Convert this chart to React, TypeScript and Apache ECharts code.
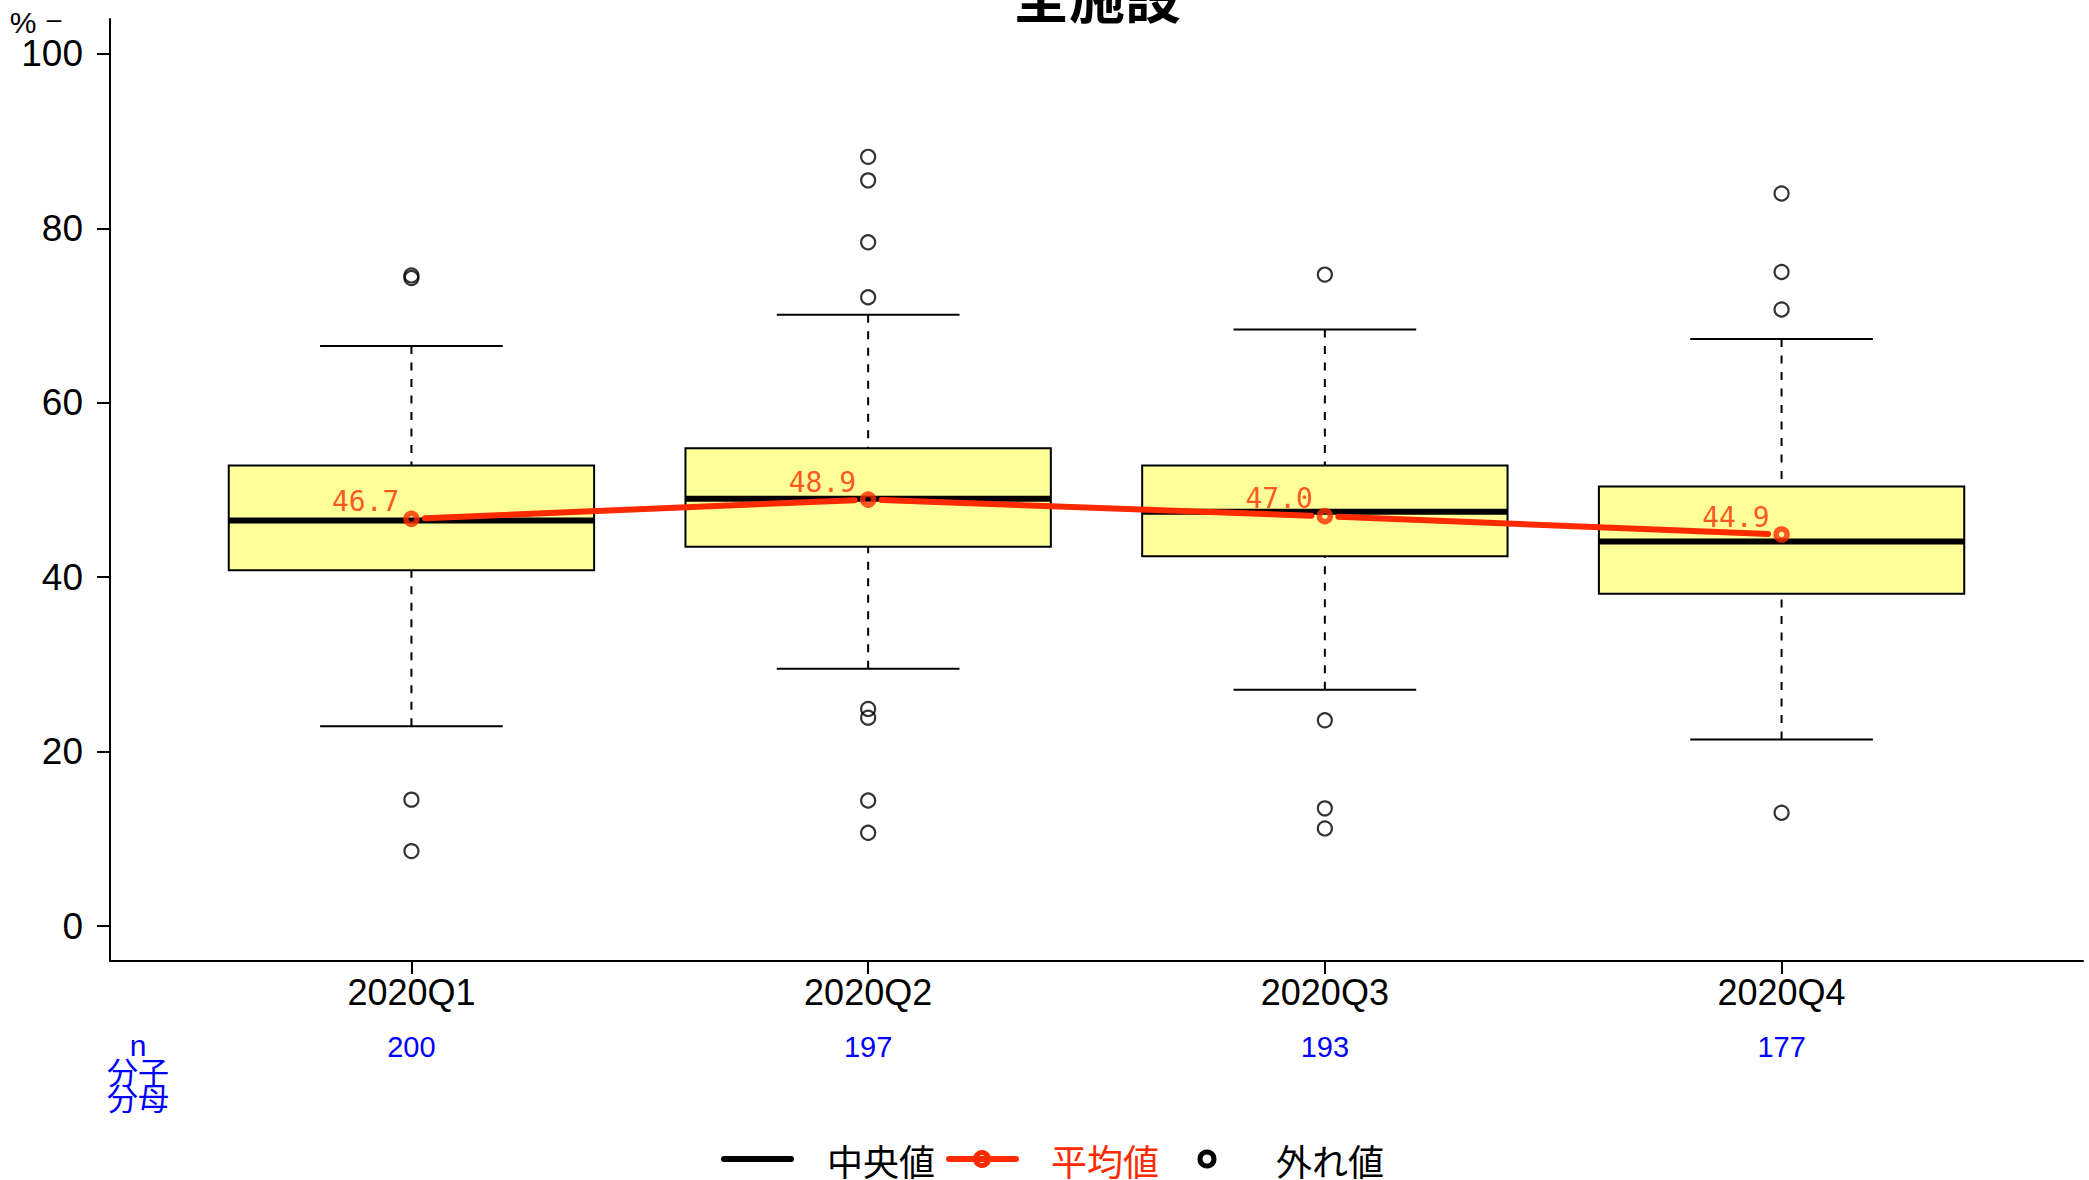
import React, { useEffect, useRef } from "react";
import * as echarts from "echarts";

const categories = ["2020Q1", "2020Q2", "2020Q3", "2020Q4"];
const nValues = [200, 197, 193, 177];
const whiskerLow = [22.9, 29.5, 27.1, 21.4];
const q1Values = [40.8, 43.5, 42.4, 38.1];
const medians = [46.5, 49.0, 47.5, 44.1];
const q3Values = [52.8, 54.8, 52.8, 50.4];
const whiskerHigh = [66.5, 70.1, 68.4, 67.3];
const means = [46.7, 48.9, 47.0, 44.9];
const outlierQ1 = [74.6, 74.3, 14.5, 8.6];
const outlierQ2 = [88.2, 85.5, 78.4, 72.1, 24.9, 23.9, 14.4, 10.7];
const outlierQ3 = [74.7, 23.6, 13.5, 11.2];
const outlierQ4 = [84.0, 75.0, 70.7, 13.0];
const yTicks = [0, 20, 40, 60, 80, 100];
const legendLabels = ["中央値", "平均値", "外れ値"];
const title = "全施設";

const RED = "#FF2A00";
const BLUE = "#0000FF";
const SANS = "'Liberation Sans', Arial, sans-serif";
const CJK = "'Noto Sans CJK JP', sans-serif";

export default function App() {
  const ref = useRef<HTMLDivElement>(null);
  useEffect(() => {
    if (!ref.current) return;
    const chart = echarts.init(ref.current, null, { renderer: "svg" });
    const xPos = categories.map((_, i) => i + 1);
    const boxData = xPos.map((x, i) => [x, whiskerLow[i], q1Values[i], medians[i], q3Values[i], whiskerHigh[i]]);
    const outlierSets = [outlierQ1, outlierQ2, outlierQ3, outlierQ4];
    const outlierData: number[][] = [];
    outlierSets.forEach((arr, i) => arr.forEach((v) => outlierData.push([i + 1, v])));
    const meanData = xPos.map((x, i) => [x, means[i]]);
    const segData = means.slice(0, -1).map((m, i) => [i + 1, m, i + 2, means[i + 1]]);

    const option: any = {
      animation: false,
      grid: { left: 110, right: 6, top: 19, bottom: 219 },
      xAxis: [
        {
          type: "value",
          min: 0.34,
          max: 4.66,
          axisLine: { show: true, onZero: false, lineStyle: { color: "#000", width: 2 } },
          axisTick: { show: true, customValues: xPos, length: 13, lineStyle: { color: "#000", width: 2 } },
          axisLabel: {
            customValues: xPos,
            formatter: (v: number) => categories[Math.round(v) - 1] ?? "",
            fontSize: 36,
            fontFamily: SANS,
            color: "#000",
            margin: 13,
          },
          splitLine: { show: false },
        },
        {
          type: "value",
          min: 0.34,
          max: 4.66,
          position: "bottom",
          axisLine: { show: false },
          axisTick: { show: false },
          axisLabel: {
            customValues: xPos,
            formatter: (v: number) => String(nValues[Math.round(v) - 1] ?? ""),
            fontSize: 29,
            fontFamily: SANS,
            color: BLUE,
            margin: 71,
          },
          splitLine: { show: false },
        },
      ],
      yAxis: {
        type: "value",
        min: -4,
        max: 104,
        axisLine: { show: true, onZero: false, lineStyle: { color: "#000", width: 2 } },
        axisTick: { show: true, customValues: yTicks, length: 13, lineStyle: { color: "#000", width: 2 } },
        axisLabel: {
          customValues: yTicks,
          fontSize: 37,
          fontFamily: SANS,
          color: "#000",
          margin: 27,
        },
        splitLine: { show: false },
      },
      series: [
        {
          type: "custom",
          z: 2,
          xAxisIndex: 0,
          encode: { x: 0, y: [1, 2, 3, 4, 5] },
          data: boxData,
          renderItem: (params: any, api: any) => {
            const x = api.value(0);
            const lo = api.coord([x, api.value(1)]);
            const b = api.coord([x, api.value(2)]);
            const m = api.coord([x, api.value(3)]);
            const t = api.coord([x, api.value(4)]);
            const hi = api.coord([x, api.value(5)]);
            const halfW = api.size([0.4, 0])[0];
            const capW = api.size([0.2, 0])[0];
            const cx = m[0];
            const dash = { stroke: "#000", lineWidth: 2, lineDash: [8, 8.5] };
            const solid = { stroke: "#000", lineWidth: 2 };
            return {
              type: "group",
              children: [
                { type: "line", shape: { x1: cx, y1: hi[1], x2: cx, y2: t[1] }, style: dash },
                { type: "line", shape: { x1: cx, y1: lo[1], x2: cx, y2: b[1] }, style: dash },
                { type: "line", shape: { x1: cx - capW, y1: hi[1], x2: cx + capW, y2: hi[1] }, style: solid },
                { type: "line", shape: { x1: cx - capW, y1: lo[1], x2: cx + capW, y2: lo[1] }, style: solid },
                {
                  type: "rect",
                  shape: { x: cx - halfW, y: t[1], width: 2 * halfW, height: b[1] - t[1] },
                  style: { fill: "#FFFF99", stroke: "#000", lineWidth: 2 },
                },
                { type: "line", shape: { x1: cx - halfW, y1: m[1], x2: cx + halfW, y2: m[1] }, style: { stroke: "#000", lineWidth: 6 } },
              ],
            };
          },
        },
        {
          type: "scatter",
          z: 3,
          data: outlierData,
          symbol: "circle",
          symbolSize: 14,
          itemStyle: { color: "rgba(0,0,0,0)", borderColor: "#000", borderWidth: 2.2 },
        },
        {
          type: "custom",
          z: 4,
          encode: { x: [0, 2], y: [1, 3] },
          data: segData,
          renderItem: (params: any, api: any) => {
            const p0 = api.coord([api.value(0), api.value(1)]);
            const p1 = api.coord([api.value(2), api.value(3)]);
            const dx = p1[0] - p0[0];
            const dy = p1[1] - p0[1];
            const len = Math.hypot(dx, dy);
            const g = 13.5;
            return {
              type: "line",
              shape: {
                x1: p0[0] + (dx / len) * g,
                y1: p0[1] + (dy / len) * g,
                x2: p1[0] - (dx / len) * g,
                y2: p1[1] - (dy / len) * g,
              },
              style: { stroke: RED, lineWidth: 6, lineCap: "round" },
            };
          },
        },
        {
          type: "scatter",
          z: 5,
          data: meanData,
          symbol: "circle",
          symbolSize: 11,
          itemStyle: { color: "rgba(0,0,0,0)", borderColor: RED, borderWidth: 5.5 },
          label: {
            show: true,
            position: "top",
            distance: 0,
            align: "right",
            offset: [-12, 5],
            formatter: (p: any) => Number(p.value[1]).toFixed(1),
            color: RED,
            fontSize: 28,
            fontFamily: "'DejaVu Sans Mono', 'Liberation Mono', monospace",
          },
        },
      ],
      graphic: [
        {
          type: "text",
          x: 1097,
          y: -7,
          style: { text: title, fontSize: 56, fontWeight: "bold", fontFamily: CJK, fill: "#000", align: "center", verticalAlign: "middle" },
        },
        {
          type: "text",
          x: 23,
          y: 22,
          style: { text: "%", fontSize: 30, fontFamily: SANS, fill: "#000", align: "center", verticalAlign: "middle" },
        },
        {
          type: "text",
          x: 54,
          y: 19,
          style: { text: "–", fontSize: 26, fontFamily: SANS, fill: "#000", align: "center", verticalAlign: "middle" },
        },
        {
          type: "text",
          x: 138,
          y: 1045,
          style: { text: "n", fontSize: 30, fontFamily: SANS, fill: BLUE, align: "center", verticalAlign: "middle" },
        },
        {
          type: "text",
          x: 138,
          y: 1070,
          style: { text: "分子", fontSize: 31, fontFamily: CJK, fill: BLUE, align: "center", verticalAlign: "middle" },
        },
        {
          type: "text",
          x: 138,
          y: 1096,
          style: { text: "分母", fontSize: 31, fontFamily: CJK, fill: BLUE, align: "center", verticalAlign: "middle" },
        },
        // legend
        { type: "line", shape: { x1: 724, y1: 1159, x2: 791, y2: 1159 }, style: { stroke: "#000", lineWidth: 6, lineCap: "round" } },
        {
          type: "text",
          x: 827,
          y: 1160,
          style: { text: legendLabels[0], fontSize: 36, fontFamily: CJK, fill: "#000", align: "left", verticalAlign: "middle" },
        },
        { type: "line", shape: { x1: 949, y1: 1159, x2: 1016, y2: 1159 }, style: { stroke: RED, lineWidth: 6, lineCap: "round" } },
        { type: "circle", shape: { cx: 982, cy: 1159, r: 6.5 }, style: { fill: "none", stroke: RED, lineWidth: 5 } },
        {
          type: "text",
          x: 1051,
          y: 1160,
          style: { text: legendLabels[1], fontSize: 36, fontFamily: CJK, fill: RED, align: "left", verticalAlign: "middle" },
        },
        { type: "circle", shape: { cx: 1207, cy: 1159, r: 7 }, style: { fill: "none", stroke: "#000", lineWidth: 5 } },
        {
          type: "text",
          x: 1276,
          y: 1160,
          style: { text: legendLabels[2], fontSize: 36, fontFamily: CJK, fill: "#000", align: "left", verticalAlign: "middle" },
        },
      ],
    };
    chart.setOption(option);
    return () => chart.dispose();
  }, []);
  return (
    <div
      ref={ref}
      style={{ position: "fixed", left: 0, top: 0, width: 2089, height: 1180, background: "#fff" }}
    />
  );
}
